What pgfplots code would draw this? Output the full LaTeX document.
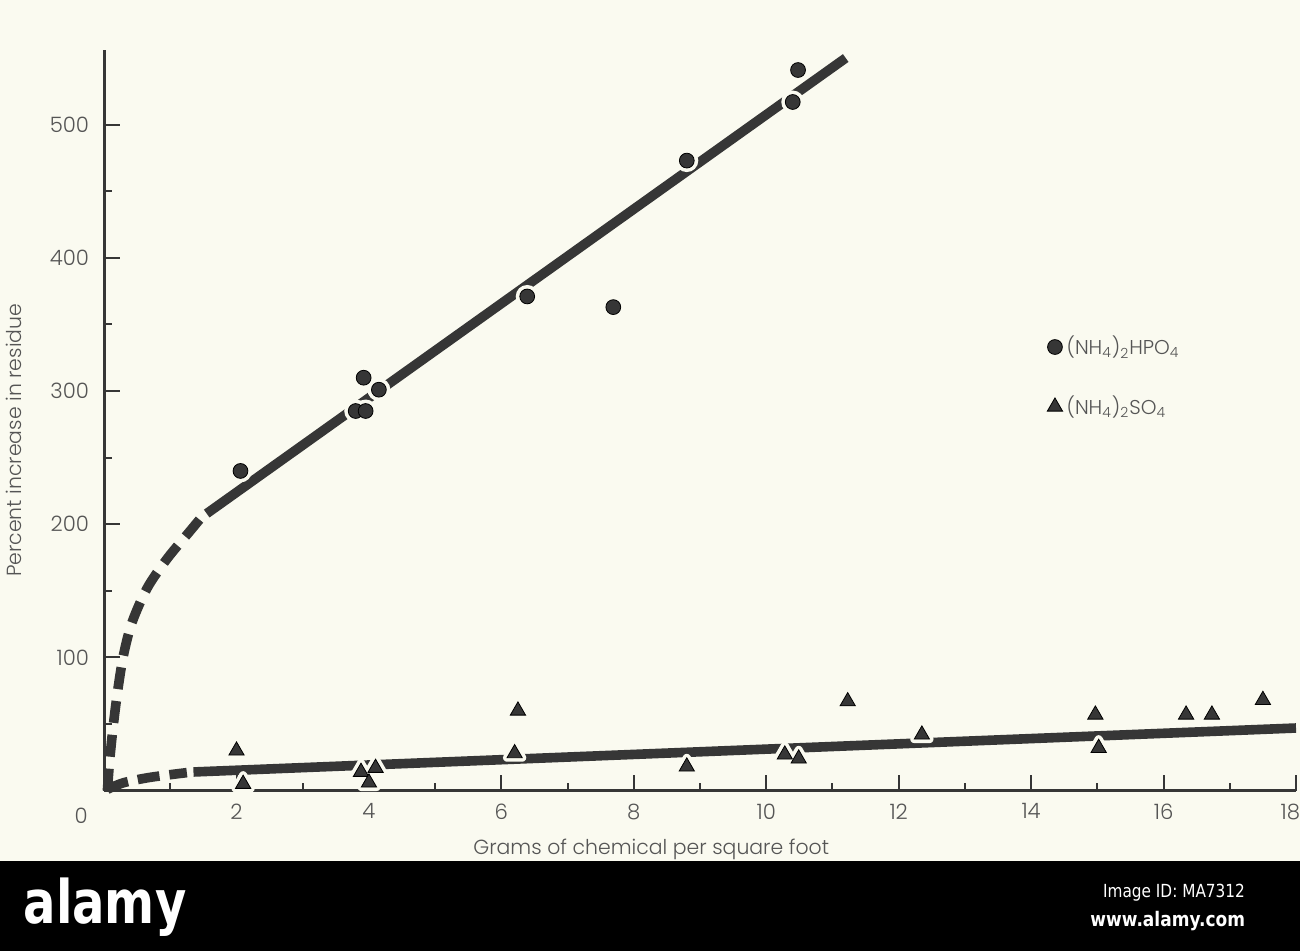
\documentclass[border=0pt]{standalone}
\usepackage{pgfplots}
\usepackage{pgfplotstable}
\pgfplotsset{compat=1.18}
\usepackage{fontspec}
\setmainfont{Poppins Light}
\newfontfamily\wmfont{DejaVu Sans}
\definecolor{bg}{HTML}{FAFAF0}
\definecolor{ink}{HTML}{363636}
\definecolor{txt}{HTML}{555555}

% (NH4)2HPO4
\pgfplotstableread{
x y
2.06 240
3.80 285
3.95 285
3.92 310
4.15 301
6.39 371
7.69 363
8.80 473
10.40 517
10.48 541
}\hpo
% (NH4)2SO4
\pgfplotstableread{
x y
2.00 30
2.10 5
3.88 14
4.10 17
4.00 6
6.25 60
6.20 28
8.80 18
10.28 27
10.49 24
11.23 67
12.35 42
14.97 57
15.02 32
16.34 57
16.73 57
17.50 68
}\so

\begin{document}
\begin{tikzpicture}[x=1pt,y=1pt]
\fill[bg] (-52,-80) rectangle (597.5,395);
\begin{axis}[
  at={(0,0)}, anchor=south west,
  scale only axis, width=595.5pt, height=370pt,
  xmin=0, xmax=18, ymin=0, ymax=556,
  axis lines*=left, clip=false,
  axis line style={ink, line width=1.5pt},
  xtick={2,4,...,18}, minor xtick={1,3,...,17},
  xticklabels={2,4,6,8,10,12,14,16,\llap{18\kern-2pt}},
  ytick={100,200,...,500}, minor ytick={50,150,...,450},
  tick align=inside,
  tick style={ink, line width=1pt},
  major tick length=8pt, minor tick length=4pt,
  /pgf/number format/assume math mode=true,
  ticklabel style={font=\fontsize{10.6}{12}\selectfont, text=txt},
  xticklabel style={yshift=-3pt},
  yticklabel style={xshift=-4pt},
  xlabel={Grams of chemical per square foot},
  ylabel={Percent increase in residue},
  label style={font=\fontsize{10.2}{12}\selectfont, text=txt},
  xlabel style={at={(axis description cs:0.459,-0.0865)}, anchor=base},
  ylabel style={at={(axis description cs:-0.0756,0.473)}, anchor=center},
  legend style={at={(axis description cs:0.786,0.625)}, anchor=north west,
    draw=none, fill=none, font=\fontsize{10}{12}\selectfont, text=txt,
    row sep=15pt},
  legend cell align=left,
]
% fitted curves (drawn first; the marker halos cut gaps in them)
\addplot[ink, line width=4.8pt, dash pattern=on 11pt off 6pt, smooth, forget plot]
  coordinates {(0.05,0) (0.08,20) (0.13,45) (0.2,73) (0.29,101) (0.42,126)
               (0.65,152) (0.95,174) (1.3,195) (1.45,204)};
\addplot[ink, line width=4.8pt, forget plot]
  coordinates {(1.55,208) (11.2,550)};
\addplot[ink, line width=4.8pt, dash pattern=on 11pt off 5pt, smooth, forget plot]
  coordinates {(0.05,1) (0.3,6) (0.7,10) (1.25,13.5)};
\addplot[ink, line width=4.8pt, forget plot]
  coordinates {(1.35,14) (18,47)};

% halos in the paper colour
\addplot[only marks, mark=*, mark size=3.7pt, forget plot,
  mark options={fill=bg, draw=bg, line width=4pt}] table {\hpo};
\addplot[only marks, mark=triangle*, mark size=4.4pt, forget plot,
  mark options={fill=bg, draw=bg, line width=4pt, line join=round}] table {\so};

% the measured points
\addplot[only marks, mark=*, mark size=3.7pt,
  mark options={fill=ink, draw=none}] table {\hpo};
\addplot[only marks, mark=triangle*, mark size=4.4pt,
  mark options={fill=ink, draw=none}] table {\so};
\legend{(NH\textsubscript{4})\textsubscript{2}HPO\textsubscript{4},
        (NH\textsubscript{4})\textsubscript{2}SO\textsubscript{4}}
\end{axis}
\node[text=txt, font=\fontsize{10.6}{12}\selectfont] at (-11.5,-12.5) {0};
% black strip at the bottom
\fill[black] (-52,-80) rectangle (597.5,-35);
\node[anchor=west, text=white, font=\wmfont\bfseries\fontsize{30}{30}\selectfont, xscale=0.8]
  at (-43,-58) {alamy};
\node[anchor=east, text=white, font=\wmfont\fontsize{9}{10}\selectfont, xscale=0.85]
  at (573,-51) {Image ID: MA7312};
\node[anchor=east, text=white, font=\wmfont\bfseries\fontsize{10}{11}\selectfont, xscale=0.85]
  at (573,-65) {www.alamy.com};
\pgfresetboundingbox
\useasboundingbox (-52,-80) rectangle (597.5,395);
\end{tikzpicture}
\end{document}
